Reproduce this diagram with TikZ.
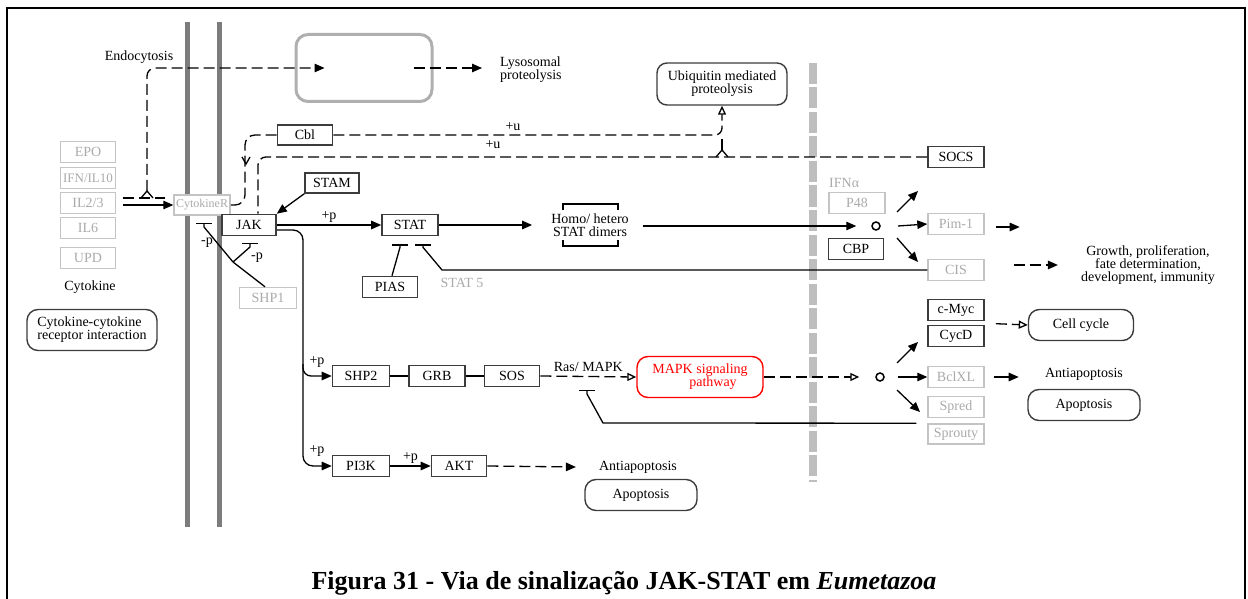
\documentclass[tikz,border=0pt]{standalone}
\usepackage{fontspec}
\setmainfont{Liberation Serif}
\usetikzlibrary{arrows.meta, calc}

\definecolor{boxline}{HTML}{3C3C3C}
\definecolor{ghostline}{HTML}{C4C4C4}
\definecolor{ghosttext}{HTML}{AAAAAA}
\definecolor{membrane}{HTML}{7C7C7C}
\definecolor{nucleus}{HTML}{BEBEBE}
\definecolor{lysoline}{HTML}{AFAFAF}

\begin{document}
\begin{tikzpicture}[x=1pt, y=-1pt, >={Triangle[length=10pt, width=8.5pt]},
  every node/.style={font=\fontsize{14}{13}\selectfont, inner sep=0pt},
  gene/.style={draw=boxline, line width=1.6pt, fill=white, minimum width=55pt, minimum height=21pt},
  ghost/.style={draw=ghostline, line width=1.4pt, fill=white, text=ghosttext, minimum width=55pt, minimum height=21pt},
  pathway/.style={draw=boxline, line width=1.4pt, rounded corners=11pt, align=center, minimum height=31pt},
  link/.style={line width=1.3pt},
  dlink/.style={link, dash pattern=on 11pt off 5pt},
  oarrow/.style={-{Triangle[open, length=9pt, width=8pt]}},
  bar/.style={-{Bar[width=16pt, line width=1.3pt]}},
  junction/.style={draw, circle, line width=1.5pt, minimum size=8pt}]
  \useasboundingbox (0,0) rectangle (1248,599);
  \draw[line width=2.2pt] (7,599) -- (7,8) -- (1245,8) -- (1245,599);
  \draw[membrane, line width=5pt] (187,22) -- (187,527);
  \draw[membrane, line width=5pt] (219,22) -- (219,527);
  \draw[nucleus, line width=8pt, dash pattern=on 21pt off 3.5pt] (813,63) -- (813,482);

  \node[draw=lysoline, line width=3pt, rounded corners=12pt, minimum width=136pt, minimum height=67pt] (lyso) at (364,68) {};
  \node (endo) at (139,57) {Endocytosis};
  \node[anchor=west, align=left] (lysotxt) at (500,70) {Lysosomal\\proteolysis};
  \node[pathway, minimum width=130pt, minimum height=42pt, rounded corners=10pt] (ubiq) at (722,84) {Ubiquitin mediated\\proteolysis};

  \node[ghost] (epo) at (88,152) {EPO};
  \node[ghost, font=\fontsize{13}{13}\selectfont] (ifn) at (88,178) {IFN/IL10};
  \node[ghost] (il23) at (88,203) {IL2/3};
  \node[ghost] (il6) at (88,228) {IL6};
  \node[ghost] (upd) at (88,258) {UPD};
  \node (cytlbl) at (90,287) {Cytokine};
  \node[pathway, align=left, minimum width=130pt, minimum height=41pt] (cci) at (92,330) {Cytokine-cytokine\\receptor interaction};

  \node[ghost, minimum width=56pt, minimum height=20pt, font=\fontsize{12}{12}\selectfont] (cytr) at (202,205) {CytokineR};
  \node[gene, minimum width=54pt] (jak) at (249,225) {JAK};
  \node[gene, minimum height=20pt] (cbl) at (305,135) {Cbl};
  \node[gene, minimum width=54pt, minimum height=20pt] (stam) at (332,183) {STAM};
  \node[gene, minimum width=56pt] (stat) at (410,225) {STAT};
  \node[gene] (pias) at (390,287) {PIAS};
  \node[text=ghosttext] (stat5) at (462,283) {STAT 5};
  \node[ghost, minimum width=57pt] (shp1) at (268,298) {SHP1};
  \node[gene, minimum width=57pt] (shp2) at (361,376) {SHP2};
  \node[gene, minimum width=56pt] (grb) at (437,376) {GRB};
  \node[gene] (sos) at (512,376) {SOS};
  \node[gene, minimum width=57pt] (pi3k) at (361,466) {PI3K};
  \node[gene] (akt) at (459,466) {AKT};
  \node[pathway, draw=red, text=red, minimum width=126pt, minimum height=41pt] (mapk) at (700,377) {MAPK signaling\\\hspace*{26pt}pathway};
  \node (antiapo1) at (638,467) {Antiapoptosis};
  \node[pathway, minimum width=112pt] (apo1) at (641,495) {Apoptosis};
  \node[align=center] (dimer) at (590,225) {Homo/ hetero\\STAT dimers};

  \node[anchor=west, text=ghosttext] (ifna) at (829,183) {IFNα};
  \node[ghost, minimum width=56pt] (p48) at (857,203) {P48};
  \node[junction] (circ1) at (876,226) {};
  \node[gene] (cbp) at (856,249) {CBP};
  \node[gene, minimum width=56pt] (socs) at (956,157) {SOCS};
  \node[ghost, minimum width=56pt] (pim1) at (956,224) {Pim-1};
  \node[ghost, minimum width=56pt] (cis) at (956,270) {CIS};
  \node[align=center] (growth) at (1148,265) {Growth, proliferation,\\fate determination,\\development, immunity};
  \node[gene, minimum width=56pt] (cmyc) at (956,310) {c-Myc};
  \node[gene, minimum width=56pt] (cycd) at (956,336) {CycD};
  \node[pathway, minimum width=105pt] (cellc) at (1081,325) {Cell cycle};
  \node[junction] (circ2) at (880,377) {};
  \node[ghost, minimum width=56pt] (bclxl) at (956,377) {BclXL};
  \node[ghost, minimum width=56pt] (spred) at (956,407) {Spred};
  \node[ghost, minimum width=56pt, minimum height=20pt] (sprouty) at (956,434) {Sprouty};
  \node (antiapo2) at (1084,374) {Antiapoptosis};
  \node[pathway, minimum width=112pt] (apo2) at (1084,405) {Apoptosis};

  \node[font=\fontsize{26}{28}\selectfont\bfseries] (caption) at (624,583) {Figura 31 - Via de sinalização JAK-STAT em \textit{Eumetazoa}};

  \coordinate (endojn) at (147,191);
  \draw[link, ->] ($(il23.east)+(7,2)$) -- (cytr.west);
  \draw[dlink] ($(il23.east)+(7,-5)$) -- ($(cytr.west)+(-8,-7)$);
  \draw[link] ($(endojn)+(-6,7)$) -- (endojn) -- ($(endojn)+(6,7)$);
  \draw[dlink, ->, rounded corners=8pt] (endojn) -- (147,68) -- ($(lyso.west)+(30,0)$);
  \draw[dlink, ->] ($(lyso.east)+(-20,0)$) -- ($(lysotxt.west)+(-18,-2)$);

  \draw[dlink, rounded corners=10pt] (cbl.west) -- (245,135) -- (245,205) -- (cytr.east);
  \draw[dlink, oarrow, rounded corners=7pt] (cbl.east) -- (722,135) -- (ubiq.south);
  \draw[dlink, rounded corners=8pt] (socs.west) -- (258,157) -- ($(jak.north)+(9,0)$);
  \node (ubq1) at (513,127) {+u};
  \node (ubq2) at (493,145) {+u};
  \draw[link] (716,157) -- (722,150) -- (728,157);
  \draw[dlink] (722,150) -- (722,137);
  \draw[link] (242,157) -- (246,164) -- (250,157);

  \draw[link, ->] (stam.south west) -- (jak.north east);
  \draw[link, ->] (jak.east) -- (stat.west) node[midway, above=2pt] (pplus1) {+p};
  \draw[link, ->] (stat.east) -- ($(dimer.west)+(-19,0)$);
  \draw[link] ($(dimer)+(-27,-15)$) -- ($(dimer)+(-27,-21)$) -- ($(dimer)+(28,-21)$) -- ($(dimer)+(28,-15)$);
  \draw[link] ($(dimer)+(-27,15)$) -- ($(dimer)+(-27,21)$) -- ($(dimer)+(28,21)$) -- ($(dimer)+(28,15)$);
  \draw[link, ->] ($(dimer.east)+(14,1)$) -- ($(circ1.west)+(-15,0)$);
  \draw[link, bar] ($(pias.north)+(2,0)$) -- ($(stat.south)+(-10,11)$) -- ($(stat.south)+(-10,8)$);
  \draw[link, bar] (cis.west) -- (442,270) -- ($(stat.south)+(13,11)$) -- ($(stat.south)+(13,8)$);

  \coordinate (shpjn) at (233,262);
  \draw[link] ($(shp1.north)+(-3,0)$) -- (shpjn);
  \draw[link, bar] (shpjn) -- (204,227) -- (204,223);
  \draw[link, bar] (shpjn) -- (250,247) -- (250,243);
  \node (mp1) at (207,243) {-p};
  \node (mp2) at (257,258) {-p};

  \draw[link, ->, rounded corners=10pt] ($(jak.east)+(0,5)$) -- (303,230) -- (303,466) -- (pi3k.west);
  \draw[link, ->, rounded corners=8pt] (303,364) -- (303,376) -- (shp2.west);
  \node (pplus2) at (317,362) {+p};
  \node (pplus3) at (317,451) {+p};
  \draw[link] (shp2) -- (grb) -- (sos);
  \draw[link, ->] (pi3k) -- (akt) node[midway, above=2pt] (pplus4) {+p};
  \draw[dlink, ->] (akt.east) -- ($(antiapo1.west)+(-23,0)$);
  \draw[dlink, oarrow] (sos.east) -- (mapk.west) node[midway, above=4pt] (rasmapk) {Ras/ MAPK};
  \draw[dlink, oarrow] (mapk.east) -- ($(circ2.west)+(-16,0)$);
  \draw[link, bar] ($(spred.south west)+(-11,5)$) -- (603,423) -- (587,394) -- (587,390);

  \draw[link, ->] ($(circ1)+(21,-14)$) -- ($(circ1)+(42,-35)$);
  \draw[link, ->] ($(circ1)+(22,0)$) -- (pim1.west);
  \draw[link, ->] ($(circ1)+(21,12)$) -- ($(circ1)+(42,36)$);
  \draw[link, ->] ($(circ2)+(17,-14)$) -- ($(circ2)+(38,-35)$);
  \draw[link, ->] ($(circ2)+(18,0)$) -- (bclxl.west);
  \draw[link, ->] ($(circ2)+(17,13)$) -- ($(circ2)+(40,35)$);
  \draw[link, ->] ($(pim1.east)+(11,3)$) -- ($(pim1.east)+(35,3)$);
  \draw[dlink, ->] ($(cis.east)+(29,-5)$) -- ($(growth.west)+(-23,0)$);
  \draw[dlink, oarrow] ($(cycd.north east)+(11,-1)$) -- (cellc.west);
  \draw[link, ->] ($(bclxl.east)+(9,0)$) -- ($(bclxl.east)+(34,0)$);
\end{tikzpicture}
\end{document}
